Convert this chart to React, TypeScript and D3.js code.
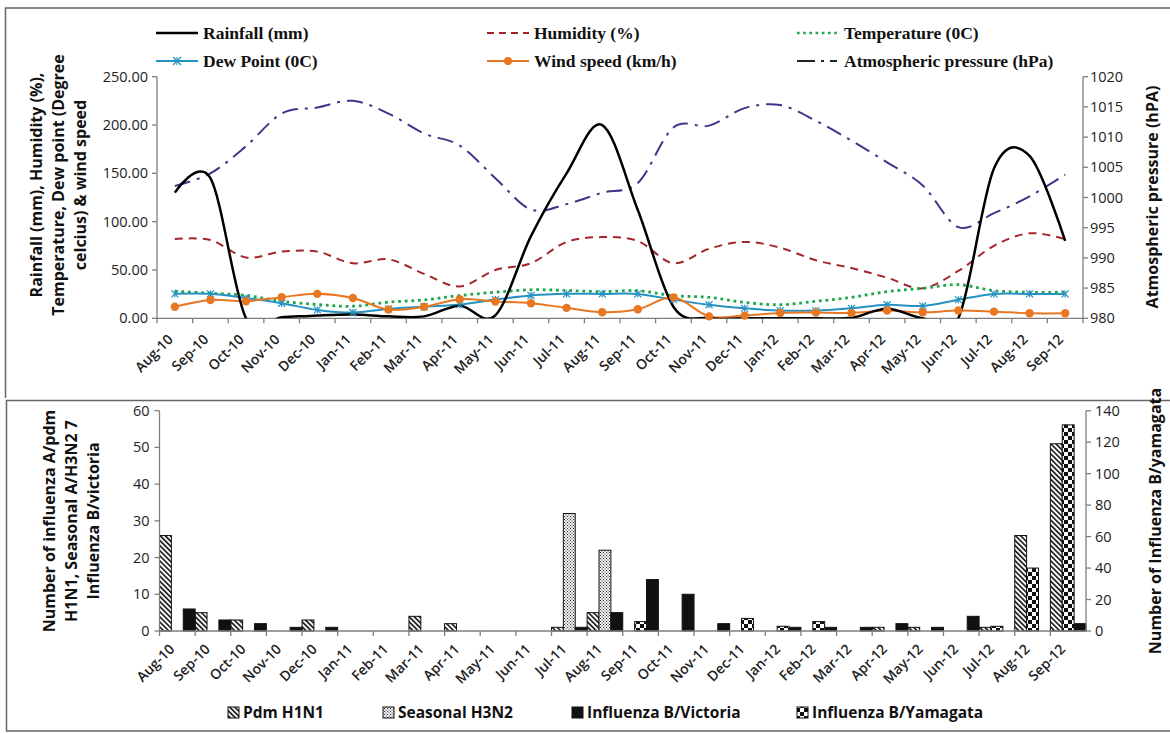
import React from "react";
import * as d3 from "d3";

const months = ["Aug-10","Sep-10","Oct-10","Nov-10","Dec-10","Jan-11","Feb-11","Mar-11","Apr-11","May-11","Jun-11","Jul-11","Aug-11","Sep-11","Oct-11","Nov-11","Dec-11","Jan-12","Feb-12","Mar-12","Apr-12","May-12","Jun-12","Jul-12","Aug-12","Sep-12"];

// Top chart series
const rainfall = [130,145,0,1,3,4,2,2,13,3,85,150,200,112,12,0,0,0,0,0.5,10,0,0,155,168,80];
const humidity = [82,81,63,69,69,57,61,46,33,50,57,79,84,80,57,72,79,73,60,52,42,31,49,75,88,82];
const temperature = [28,26,23.6,17.7,14.2,12.5,16.7,19,23.6,27,29.5,28.8,27.6,28.6,23.4,21.7,16.5,14,17.6,21.7,27.6,31,34.8,28.6,27,27];
const dewPoint = [25.3,25.3,21,15.6,8.7,6,9.7,12,14.2,19.4,23.6,25.3,25.2,25.2,19.3,14,10.3,8,8,10.3,14,12.8,19.3,25.2,25.2,25.2];
const windSpeed = [12,19,17.7,21.9,25.3,21,9,12,19.8,17.4,15.6,10.8,6.2,9.3,21.7,2,2.8,5.5,5.9,5.5,8,6.2,8,6.9,5.2,5.2];
const pressure = [1001.9,1004,1008.5,1013.9,1014.9,1016,1013.9,1010.6,1008.6,1003.2,998,998.9,1000.8,1002.4,1011.6,1011.9,1014.8,1015.3,1012.7,1009.4,1005.8,1002,995.1,997.4,1000.2,1003.8];
const leftTicks = [0,50,100,150,200,250];
const rightTicks = [980,985,990,995,1000,1005,1010,1015,1020];

// Bottom chart series
const pdmH1N1 = [26,5,3,0,3,0,0,4,2,0,0,1,5,0,0,0,0,0,0,0,1,1,0,1,26,51];
const seasonalH3N2 = [0,0,0,0,0,0,0,0,0,0,0,32,22,0,0,0,0,0,0,0,0,0,0,0,0,0];
const victoria = [6,3,2,1,1,0,0,0,0,0,0,1,5,14,10,2,0,1,1,1,2,1,4,0,0,2];
const yamagata = [0,0,0,0,0,0,0,0,0,0,0,0,0,6,0,0,8,3,6,0,0,0,0,3,40,131];
const bLeftTicks = [0,10,20,30,40,50,60];
const bRightTicks = [0,20,40,60,80,100,120,140];

const C = {
  rain: "#000000",
  hum: "#A3262A",
  temp: "#1DA64A",
  dew: "#2592C2",
  wind: "#E87722",
  pres: "#45338A",
  axis: "#7f7f7f",
  text: "#222222",
};

const sans = "'Open Sans', 'Noto Sans', sans-serif";
const serif = "'Liberation Serif', 'Times New Roman', serif";

function Asterisk({ x, y, s = 4, color }: { x: number; y: number; s?: number; color: string }) {
  return (
    <g stroke={color} strokeWidth={1.2}>
      <line x1={x - s} y1={y - s} x2={x + s} y2={y + s} />
      <line x1={x - s} y1={y + s} x2={x + s} y2={y - s} />
      <line x1={x} y1={y - s} x2={x} y2={y + s} />
    </g>
  );
}

export default function App() {
  // ---- top chart ----
  const tL = 157, tR = 1083, tT = 76.7, tB = 318.3;
  const xTop = d3.scaleBand<string>().domain(months).range([tL, tR]).padding(0);
  const yL = d3.scaleLinear().domain([0, 250]).range([tB, tT]);
  const yR = d3.scaleLinear().domain([980, 1020]).range([tB, tT]);
  const cxT = (i: number) => (xTop(months[i]) as number) + xTop.bandwidth() / 2;
  const curve = d3.curveCardinal.tension(0);
  const lineL = d3.line<number>().x((_, i) => cxT(i)).y((d) => yL(d)).curve(curve);
  const lineR = d3.line<number>().x((_, i) => cxT(i)).y((d) => yR(d)).curve(curve);

  // ---- bottom chart ----
  const bL = 159.5, bR = 1086, bT = 410.7, bB = 631;
  const xBot = d3.scaleBand<string>().domain(months).range([bL, bR]).padding(0);
  const slot = d3.scaleBand<number>().domain([0, 1, 2]).range([0, xBot.bandwidth()]).padding(0);
  const yBL = d3.scaleLinear().domain([0, 60]).range([bB, bT]);
  const yBR = d3.scaleLinear().domain([0, 140]).range([bB, bT]);
  const cxB = (i: number) => (xBot(months[i]) as number) + xBot.bandwidth() / 2;

  const bars: { vals: number[]; s: number; y: d3.ScaleLinear<number, number>; fill: string; key: string }[] = [
    { vals: pdmH1N1, s: 0, y: yBL, fill: "url(#hatch)", key: "pdm" },
    { vals: seasonalH3N2, s: 1, y: yBL, fill: "url(#dots)", key: "sea" },
    { vals: victoria, s: 2, y: yBL, fill: "#111", key: "vic" },
    { vals: yamagata, s: 1, y: yBR, fill: "url(#checker)", key: "yam" },
  ];

  const topLegend = [
    { row: 0, x: 156, label: "Rainfall (mm)", kind: "rain" },
    { row: 0, x: 487, label: "Humidity (%)", kind: "hum" },
    { row: 0, x: 797, label: "Temperature (0C)", kind: "temp" },
    { row: 1, x: 156, label: "Dew Point (0C)", kind: "dew" },
    { row: 1, x: 487, label: "Wind speed (km/h)", kind: "wind" },
    { row: 1, x: 797, label: "Atmospheric pressure (hPa)", kind: "pres" },
  ];
  const sampleW = 42;

  const botLegend = [
    { x: 228, label: "Pdm H1N1", fill: "url(#hatch)" },
    { x: 383, label: "Seasonal H3N2", fill: "url(#dots)" },
    { x: 572, label: "Influenza B/Victoria", fill: "#111" },
    { x: 797, label: "Influenza B/Yamagata", fill: "url(#checker)" },
  ];

  return (
    <svg width={1170} height={733} viewBox="0 0 1170 733" style={{ position: "absolute", left: 0, top: 0, background: "#fff" }}>
      <defs>
        <clipPath id="topClip">
          <rect x={tL} y={tT - 20} width={tR - tL} height={tB - tT + 20} />
        </clipPath>
        <pattern id="hatch" width={3.6} height={3.6} patternUnits="userSpaceOnUse" patternTransform="rotate(-45)">
          <rect width={3.6} height={3.6} fill="#fff" />
          <rect width={1.6} height={3.6} fill="#111" />
        </pattern>
        <pattern id="dots" width={3} height={3} patternUnits="userSpaceOnUse">
          <rect width={3} height={3} fill="#fff" />
          <rect x={0} y={0} width={1.1} height={1.1} fill="#333" />
          <rect x={1.5} y={1.5} width={1.1} height={1.1} fill="#333" />
        </pattern>
        <pattern id="checker" width={8} height={8} patternUnits="userSpaceOnUse">
          <rect width={8} height={8} fill="#fff" />
          <rect x={0} y={0} width={4} height={4} fill="#111" />
          <rect x={4} y={4} width={4} height={4} fill="#111" />
        </pattern>
      </defs>

      {/* panel frames */}
      <path d="M1170,8 H5.5 V398" fill="none" stroke="#666" strokeWidth={1.5} />
      <path d="M1170,400.5 H6.5 V731 H1170" fill="none" stroke="#666" strokeWidth={1.5} />

      {/* ===== TOP LEGEND ===== */}
      {topLegend.map((it) => {
        const y = it.row === 0 ? 33 : 61;
        const x0 = it.x, x1 = it.x + sampleW, xm = (x0 + x1) / 2;
        let sample: React.ReactNode = null;
        if (it.kind === "rain") sample = <line x1={x0} x2={x1} y1={y} y2={y} stroke={C.rain} strokeWidth={2.5} />;
        if (it.kind === "hum") sample = <line x1={x0} x2={x1} y1={y} y2={y} stroke={C.hum} strokeWidth={2} strokeDasharray="7,5" />;
        if (it.kind === "temp") sample = <line x1={x0} x2={x1} y1={y} y2={y} stroke={C.temp} strokeWidth={2.6} strokeDasharray="2.6,3.6" />;
        if (it.kind === "dew") sample = (
          <g>
            <line x1={x0} x2={x1} y1={y} y2={y} stroke={C.dew} strokeWidth={2} />
            <Asterisk x={xm} y={y} color={C.dew} />
          </g>
        );
        if (it.kind === "wind") sample = (
          <g>
            <line x1={x0} x2={x1} y1={y} y2={y} stroke={C.wind} strokeWidth={2} />
            <circle cx={xm} cy={y} r={4} fill={C.wind} />
          </g>
        );
        if (it.kind === "pres") sample = <line x1={x0} x2={x1} y1={y} y2={y} stroke="#222" strokeWidth={2.2} strokeDasharray="18,6,3,6,7" />;
        return (
          <g key={it.label}>
            {sample}
            <text x={x1 + 5} y={y} dy="0.35em" fontFamily={serif} fontWeight="bold" fontSize={17.5} fill="#111">
              {it.label}
            </text>
          </g>
        );
      })}

      {/* ===== TOP CHART ===== */}
      <line x1={tL} x2={tL} y1={tT} y2={tB} stroke={C.axis} strokeWidth={1.3} />
      <line x1={tR} x2={tR} y1={tT} y2={tB} stroke={C.axis} strokeWidth={1.3} />
      <line x1={tL} x2={tR} y1={tB} y2={tB} stroke={C.axis} strokeWidth={1.3} />
      {leftTicks.map((t) => (
        <g key={"tl" + t}>
          <line x1={tL - 5} x2={tL} y1={yL(t)} y2={yL(t)} stroke={C.axis} strokeWidth={1.3} />
          <text x={tL - 9} y={yL(t)} dy="0.35em" textAnchor="end" fontFamily={sans} fontSize={14.5} fill={C.text}>
            {t.toFixed(2)}
          </text>
        </g>
      ))}
      {rightTicks.map((t) => (
        <g key={"tr" + t}>
          <line x1={tR} x2={tR + 5} y1={yR(t)} y2={yR(t)} stroke={C.axis} strokeWidth={1.3} />
          <text x={tR + 7} y={yR(t)} dy="0.35em" textAnchor="start" fontFamily={sans} fontSize={14.5} fill={C.text}>
            {t}
          </text>
        </g>
      ))}
      {months.map((m) => (
        <line key={"txt" + m} x1={xTop(m) as number} x2={xTop(m) as number} y1={tB} y2={tB + 5} stroke={C.axis} strokeWidth={1.3} />
      ))}
      <line x1={tR} x2={tR} y1={tB} y2={tB + 5} stroke={C.axis} strokeWidth={1.3} />
      {months.map((m, i) => (
        <text key={"tx" + m} transform={`translate(${cxT(i) - 1},${tB + 22}) rotate(-45)`} textAnchor="end" fontFamily={sans} fontWeight="600" fontSize={14} fill={C.text}>
          {m}
        </text>
      ))}

      <g clipPath="url(#topClip)" fill="none">
        <path d={lineR(pressure) as string} stroke={C.pres} strokeWidth={2} strokeDasharray="16,7,3,7" />
        <path d={lineL(humidity) as string} stroke={C.hum} strokeWidth={2} strokeDasharray="8,6" />
        <path d={lineL(temperature) as string} stroke={C.temp} strokeWidth={2.8} strokeDasharray="2.8,3.8" />
        <path d={lineL(dewPoint) as string} stroke={C.dew} strokeWidth={2} />
        <path d={lineL(windSpeed) as string} stroke={C.wind} strokeWidth={2} />
        <path d={lineL(rainfall) as string} stroke={C.rain} strokeWidth={2.5} />
      </g>
      {dewPoint.map((d, i) => (
        <Asterisk key={"dp" + i} x={cxT(i)} y={yL(d)} s={3.5} color={C.dew} />
      ))}
      {windSpeed.map((d, i) => (
        <circle key={"ws" + i} cx={cxT(i)} cy={yL(d)} r={4.2} fill={C.wind} />
      ))}

      {["Rainfall (mm), Humidity (%),", "Temperature, Dew point (Degree", "celcius) & wind speed"].map((s, k) => (
        <text key={"tlt" + k} transform={`translate(${36 + k * 22},185) rotate(-90)`} textAnchor="middle" dy="0.35em" fontFamily={sans} fontWeight="bold" fontSize={16} fill="#111">
          {s}
        </text>
      ))}
      <text transform="translate(1152,197) rotate(-90)" textAnchor="middle" dy="0.35em" fontFamily={sans} fontWeight="bold" fontSize={16} fill="#111">
        Atmospheric pressure (hPA)
      </text>

      {/* ===== BOTTOM CHART ===== */}
      {bars.map((b) =>
        b.vals.map((v, i) =>
          v > 0 ? (
            <rect
              key={b.key + i}
              x={(xBot(months[i]) as number) + (slot(b.s) as number)}
              y={b.y(v)}
              width={slot.bandwidth()}
              height={bB - b.y(v)}
              fill={b.fill}
              stroke="#111"
              strokeWidth={1}
            />
          ) : null
        )
      )}
      <line x1={bL} x2={bL} y1={bT} y2={bB} stroke={C.axis} strokeWidth={1.3} />
      <line x1={bR} x2={bR} y1={bT} y2={bB} stroke={C.axis} strokeWidth={1.3} />
      <line x1={bL} x2={bR} y1={bB} y2={bB} stroke={C.axis} strokeWidth={1.3} />
      {bLeftTicks.map((t) => (
        <g key={"bl" + t}>
          <line x1={bL - 5} x2={bL} y1={yBL(t)} y2={yBL(t)} stroke={C.axis} strokeWidth={1.3} />
          <text x={bL - 10} y={yBL(t)} dy="0.35em" textAnchor="end" fontFamily={sans} fontSize={14.5} fill={C.text}>
            {t}
          </text>
        </g>
      ))}
      {bRightTicks.map((t) => (
        <g key={"br" + t}>
          <line x1={bR} x2={bR + 5} y1={yBR(t)} y2={yBR(t)} stroke={C.axis} strokeWidth={1.3} />
          <text x={bR + 9} y={yBR(t)} dy="0.35em" textAnchor="start" fontFamily={sans} fontSize={14.5} fill={C.text}>
            {t}
          </text>
        </g>
      ))}
      {months.map((m) => (
        <line key={"bxt" + m} x1={xBot(m) as number} x2={xBot(m) as number} y1={bB} y2={bB + 5} stroke={C.axis} strokeWidth={1.3} />
      ))}
      {months.map((m, i) => (
        <text key={"bx" + m} transform={`translate(${cxB(i) - 2},${bB + 19}) rotate(-45)`} textAnchor="end" fontFamily={sans} fontWeight="600" fontSize={14} fill={C.text}>
          {m}
        </text>
      ))}

      {["Number of influenza A/pdm", "H1N1, Seasonal A/H3N2 7", "Influenza B/victoria"].map((s, k) => (
        <text key={"blt" + k} transform={`translate(${49 + k * 22},521) rotate(-90)`} textAnchor="middle" dy="0.35em" fontFamily={sans} fontWeight="bold" fontSize={16} fill="#111">
          {s}
        </text>
      ))}
      <text transform="translate(1155,521) rotate(-90)" textAnchor="middle" dy="0.35em" fontFamily={sans} fontWeight="bold" fontSize={16} fill="#111">
        Number of Influenza B/yamagata
      </text>

      {botLegend.map((it) => (
        <g key={it.label}>
          <rect x={it.x} y={707} width={11} height={11} fill={it.fill} stroke="#111" strokeWidth={1} />
          <text x={it.x + 15} y={713} dy="0.35em" fontFamily={sans} fontWeight="bold" fontSize={15.5} fill="#111">
            {it.label}
          </text>
        </g>
      ))}
    </svg>
  );
}
